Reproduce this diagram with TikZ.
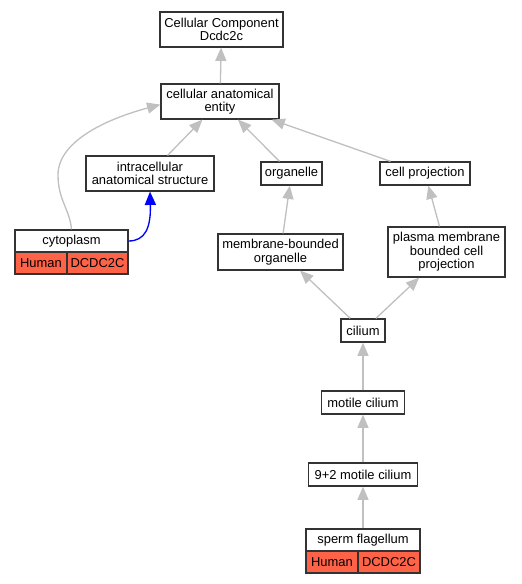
\documentclass[tikz,border=0pt]{standalone}
\usepackage{fontspec}
\setmainfont{Liberation Sans}
\usetikzlibrary{arrows.meta}
\definecolor{edgegray}{HTML}{C0C0C0}
\definecolor{tomatored}{HTML}{FF6347}
\definecolor{boxline}{HTML}{333333}
\begin{document}
\begin{tikzpicture}[x=0.75pt,y=-0.75pt,
 gbox/.style 2 args={draw=boxline, line width=0.9pt, fill=white, inner sep=0pt,
   minimum width=#1*0.75pt, minimum height=#2*0.75pt, align=center,
   font=\fontsize{9.7}{10.2}\selectfont},
 rbox/.style 2 args={gbox={#1}{#2}, fill=tomatored},
 isa/.style={color=edgegray, line width=1pt, -{Triangle[length=10pt,width=8.3pt]}},
 bisa/.style={color=blue, line width=1pt, -{Triangle[length=10pt,width=8.3pt]}}]
\useasboundingbox (0,0) rectangle (521,584);
\node[gbox={123}{35}] (cc) at (221.5,29.5) {Cellular Component\\Dcdc2c};
\node[gbox={118}{35}] (cae) at (220,101.5) {cellular anatomical\\entity};
\node[gbox={128}{35}] (intra) at (150,173.5) {intracellular\\anatomical structure};
\node[gbox={61}{23}] (org) at (291.5,173.5) {organelle};
\node[gbox={90}{23}] (cp) at (425,173.5) {cell projection};
\node[gbox={113}{22}] (cyto) at (71.5,241) {cytoplasm};
\node[rbox={52}{22}] (cytoh) at (41,263) {Human};
\node[rbox={61}{22}] (cytog) at (97.5,263) {DCDC2C};
\node[gbox={125}{36}] (mbo) at (280.5,252) {membrane-bounded\\organelle};
\node[gbox={117}{50}] (pmb) at (446.5,252) {plasma membrane\\bounded cell\\projection};
\node[gbox={44}{23}] (cil) at (363,330.5) {cilium};
\node[gbox={83}{23}] (mot) at (363,402.5) {motile cilium};
\node[gbox={109}{23}] (nine) at (363,474.5) {9+2 motile cilium};
\node[gbox={114}{22}] (sf) at (363,540) {sperm flagellum};
\node[rbox={52}{22}] (sfh) at (332,562) {Human};
\node[rbox={62}{22}] (sfg) at (389,562) {DCDC2C};
\draw[isa] (cae) -- (cc);
\draw[isa] (intra) -- (cae);
\draw[isa] (org) -- (cae);
\draw[isa] (cp) -- (cae);
\draw[isa] (cyto.north) .. controls (70,210) and (58,200) .. (58,175)
  .. controls (58,140) and (110,118) .. (cae.183);
\draw[bisa] (cyto.east) .. controls (145,241) and (151,228) .. (intra.south);
\draw[isa] (mbo) -- (org);
\draw[isa] (pmb) -- (cp);
\draw[isa] (cil) -- (mbo);
\draw[isa] (cil) -- (pmb);
\draw[isa] (mot) -- (cil);
\draw[isa] (nine) -- (mot);
\draw[isa] (sf) -- (nine);
\end{tikzpicture}
\end{document}
